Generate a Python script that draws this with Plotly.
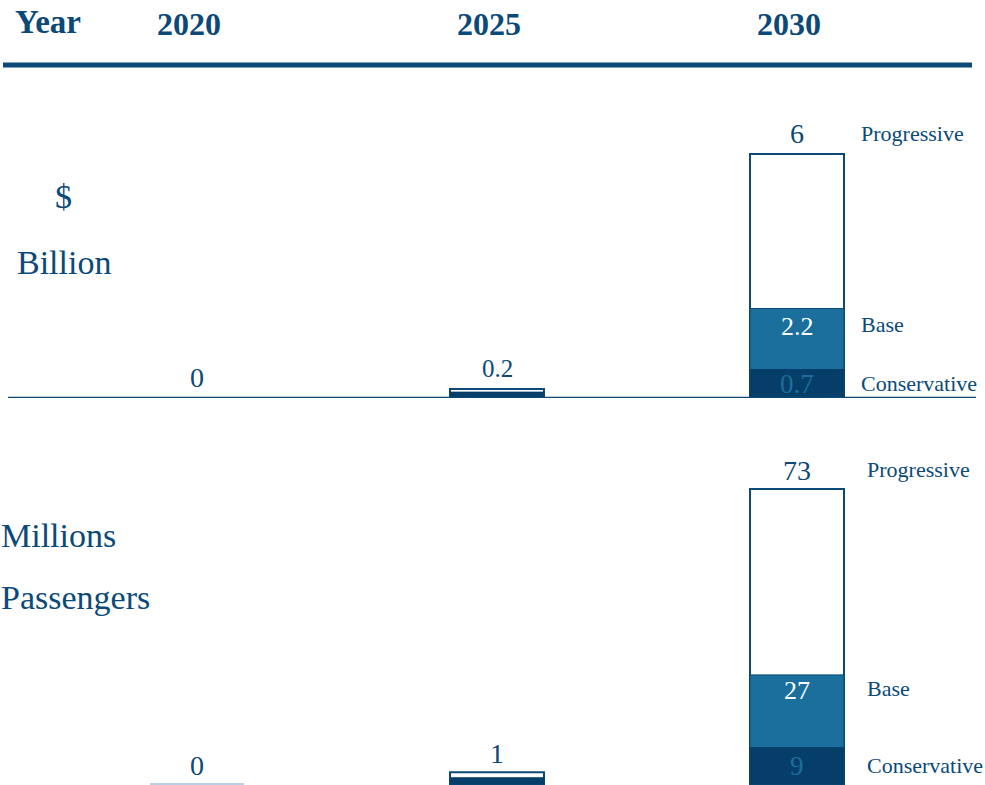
import plotly.graph_objects as go

# ---------------- data ----------------
years = [2020, 2025, 2030]
header_labels = ["2020", "2025", "2030"]
scenarios = ["Progressive", "Base", "Conservative"]

# $ Billion
rev_progressive = [0, 0.22, 6]
rev_base = [0, 0.14, 2.2]
rev_conservative = [0, 0.14, 0.7]
rev_top_labels = ["0", "0.2", "6"]
rev_base_label = "2.2"
rev_cons_label = "0.7"

# Millions Passengers
pax_progressive = [0, 2.9, 73]
pax_base = [0, 1.5, 27]
pax_conservative = [0, 1.5, 9]
pax_top_labels = ["0", "1", "73"]
pax_base_label = "27"
pax_cons_label = "9"

# ---------------- style ----------------
NAVY = "#0b4a78"
TEAL = "#1a6f9c"
DARK = "#063e6a"
LIGHT = "#b9d0e2"
SERIF = "Liberation Serif"
W, H = 985, 785

def px_x(p):
    return p / W

def px_y(p):
    return 1 - p / H

# x scale: 2020 -> 197px, 60 px per year
x0 = 2020 - 197 / 60
x1 = 2020 + (W - 197) / 60
bar_w = 94 / 60

# top panel: baseline 398px
top_ppu = 244 / 6
top_dom = [px_y(398), px_y(90)]
top_range = [0, (398 - 90) / top_ppu]
# bottom panel: baseline 784px
bot_ppu = 295 / 73
bot_dom = [px_y(785), px_y(430)]
bot_range = [-1 / bot_ppu, (784 - 430) / bot_ppu]

fig = go.Figure()

def add_panel(prog, base, cons, xa, ya, lc_prog, lc_base, lc_cons):
    fig.add_trace(go.Bar(x=years, y=prog, width=bar_w, xaxis=xa, yaxis=ya,
                         marker=dict(color="white", line=dict(color=lc_prog, width=2)),
                         showlegend=False, hoverinfo="skip"))
    fig.add_trace(go.Bar(x=years, y=base, width=bar_w, xaxis=xa, yaxis=ya,
                         marker=dict(color=TEAL, line=dict(color=lc_base, width=1)),
                         showlegend=False, hoverinfo="skip"))
    fig.add_trace(go.Bar(x=years, y=cons, width=bar_w, xaxis=xa, yaxis=ya,
                         marker=dict(color=DARK, line=dict(color=lc_cons, width=1)),
                         showlegend=False, hoverinfo="skip"))

add_panel(rev_progressive, rev_base, rev_conservative, "x", "y",
          [NAVY, NAVY, NAVY], [NAVY, NAVY, NAVY], [NAVY, DARK, DARK])
add_panel(pax_progressive, pax_base, pax_conservative, "x2", "y2",
          [LIGHT, NAVY, NAVY], [LIGHT, NAVY, NAVY], [LIGHT, DARK, DARK])

ann = []

def A(**kw):
    d = dict(showarrow=False, font=dict(family=SERIF, color=NAVY, size=26))
    f = kw.pop("font", None)
    if f:
        d["font"].update(f)
    d.update(kw)
    ann.append(d)

# header
A(text="<b>Year</b>", xref="paper", yref="paper", x=px_x(13), y=px_y(22),
  xanchor="left", yanchor="middle", font=dict(size=33))
for yr, lab in zip(years, header_labels):
    A(text=f"<b>{lab}</b>", xref="x", yref="paper", x=yr, xshift=-8, y=px_y(24),
      xanchor="center", yanchor="middle", font=dict(size=32))

# left labels
A(text="$", xref="paper", yref="paper", x=px_x(63), y=px_y(197),
  xanchor="center", yanchor="middle", font=dict(size=34))
A(text="Billion", xref="paper", yref="paper", x=px_x(64), y=px_y(263),
  xanchor="center", yanchor="middle", font=dict(size=34))
A(text="Millions", xref="paper", yref="paper", x=px_x(-1), y=px_y(535),
  xanchor="left", yanchor="middle", font=dict(size=34))
A(text="Passengers", xref="paper", yref="paper", x=px_x(-1), y=px_y(597),
  xanchor="left", yanchor="middle", font=dict(size=34))

def panel_labels(prog, base, cons, tops, blab, clab, xa, ya, lab_x, shifts):
    for yr, v, t in zip(years, prog, tops):
        A(text=t, xref=xa, yref=ya, x=yr, y=v, yshift=shifts["top"],
          xanchor="center", yanchor="middle", font=dict(size=28 if len(t) < 3 else 25))
    last = len(years) - 1
    A(text=blab, xref=xa, yref=ya, x=years[last], y=base[last], yshift=shifts["base"],
      xanchor="center", yanchor="middle", font=dict(size=26, color="white"))
    A(text=clab, xref=xa, yref=ya, x=years[last], y=cons[last] / 2,
      xanchor="center", yanchor="middle", font=dict(size=27, color=TEAL))
    A(text=scenarios[0], xref="paper", yref=ya, x=px_x(lab_x), y=prog[last], yshift=shifts["sp"],
      xanchor="left", yanchor="middle", font=dict(size=22))
    A(text=scenarios[1], xref="paper", yref=ya, x=px_x(lab_x), y=base[last], yshift=shifts["sb"],
      xanchor="left", yanchor="middle", font=dict(size=22))
    A(text=scenarios[2], xref="paper", yref=ya, x=px_x(lab_x), y=cons[last] / 2,
      xanchor="left", yanchor="middle", font=dict(size=22))

panel_labels(rev_progressive, rev_base, rev_conservative, rev_top_labels,
             rev_base_label, rev_cons_label, "x", "y", 859,
             dict(top=21, base=-18, sp=21, sb=-16))
panel_labels(pax_progressive, pax_base, pax_conservative, pax_top_labels,
             pax_base_label, pax_cons_label, "x2", "y2", 865,
             dict(top=19, base=-16, sp=20, sb=-14))

shapes = [
    dict(type="line", xref="paper", yref="paper", x0=px_x(3), x1=px_x(972),
         y0=px_y(65), y1=px_y(65), line=dict(color=NAVY, width=5)),
    dict(type="line", xref="paper", yref="y", x0=px_x(8), x1=px_x(976),
         y0=0, y1=0, line=dict(color=NAVY, width=2.5)),
]

axis_common = dict(showgrid=False, zeroline=False, showticklabels=False, ticks="",
                   showline=False, fixedrange=True)

fig.update_layout(
    width=W, height=H, autosize=False,
    margin=dict(l=0, r=0, t=0, b=0, pad=0),
    paper_bgcolor="white", plot_bgcolor="white",
    barmode="overlay",
    xaxis=dict(domain=[0, 1], range=[x0, x1], anchor="y", **axis_common),
    yaxis=dict(domain=top_dom, range=top_range, anchor="x", **axis_common),
    xaxis2=dict(domain=[0, 1], range=[x0, x1], anchor="y2", **axis_common),
    yaxis2=dict(domain=bot_dom, range=bot_range, anchor="x2", **axis_common),
    annotations=ann,
    shapes=shapes,
    showlegend=False,
)

fig.write_html("out.html", config=dict(displayModeBar=False),
               post_script="document.body.style.margin='0';document.body.style.overflow='hidden';")
